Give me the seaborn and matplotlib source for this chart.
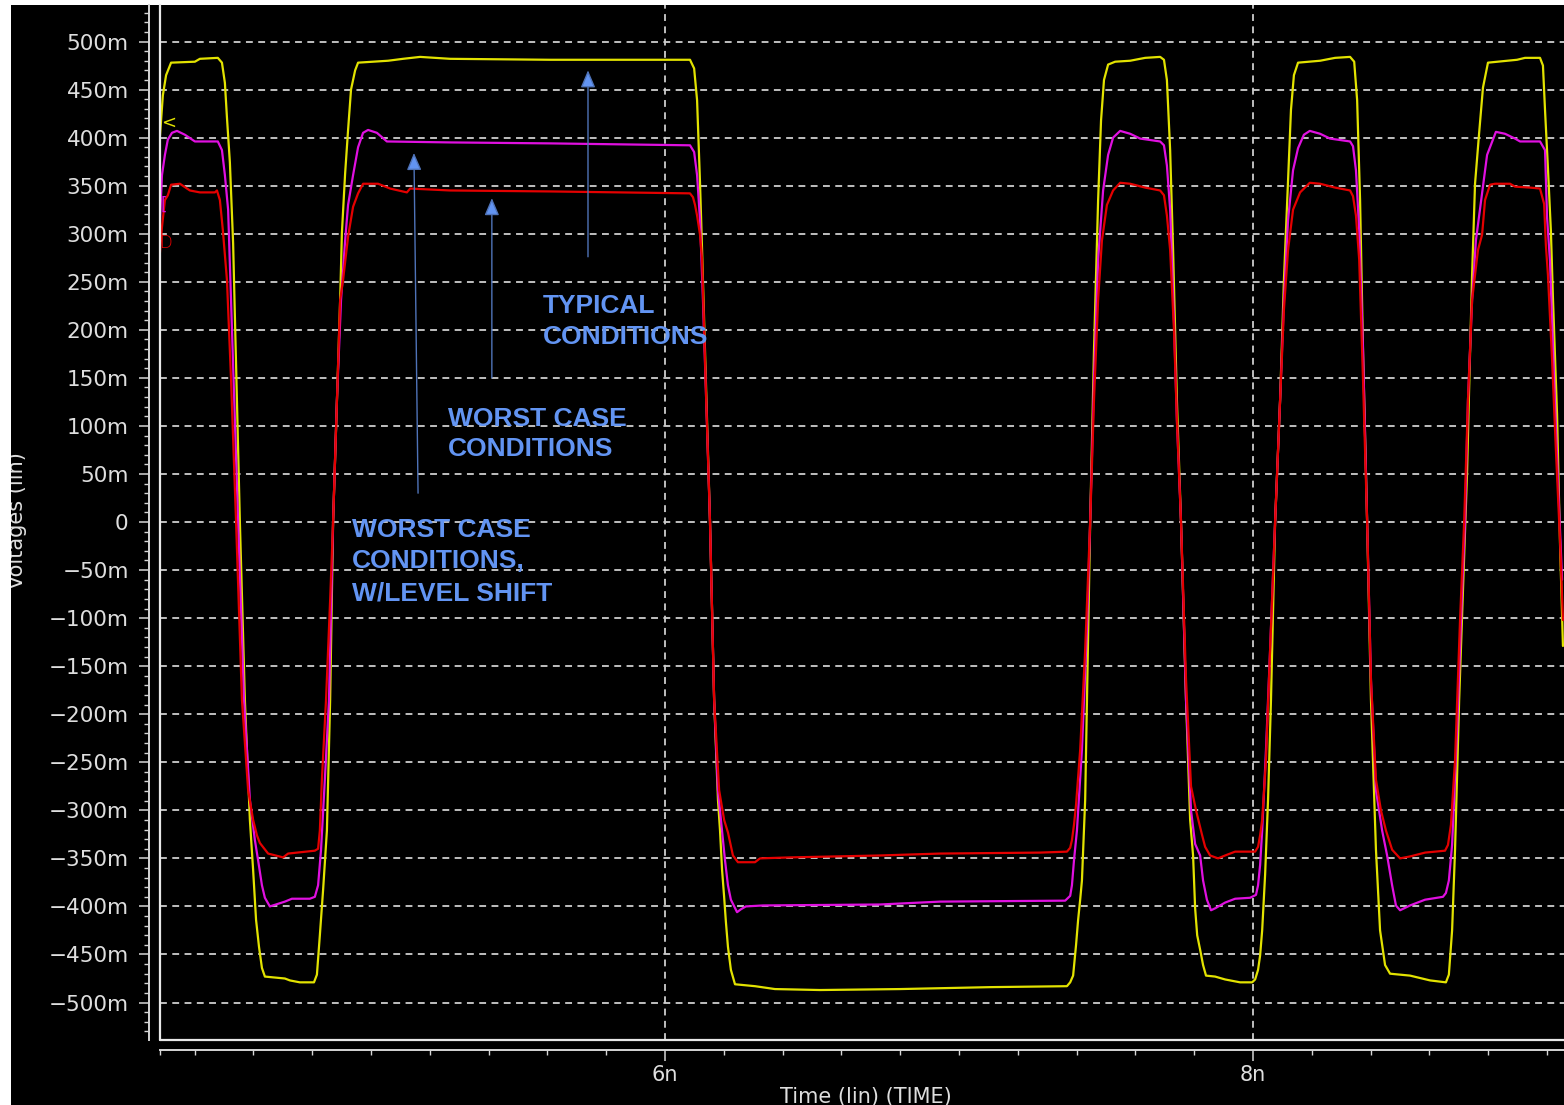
import numpy as np
import pandas as pd
import seaborn as sns
import matplotlib
matplotlib.use('Agg')
import matplotlib.pyplot as plt
from matplotlib.patches import Rectangle, FancyArrowPatch
from matplotlib.ticker import FixedLocator, FuncFormatter, MultipleLocator

# waveforms: (time in ns, voltage in mV)
typical = [(4.282, 401), (4.292, 444), (4.303, 465), (4.320, 478), (4.401, 479), (4.418, 482), (4.479, 483),
           (4.493, 478), (4.503, 457), (4.510, 421), (4.520, 374), (4.531, 290), (4.544, 127), (4.554, 0),
           (4.571, -185), (4.588, -310), (4.599, -362), (4.609, -414), (4.619, -442), (4.629, -464), (4.639, -473),
           (4.707, -475), (4.724, -477), (4.758, -479), (4.806, -479), (4.816, -471), (4.826, -430), (4.837, -383),
           (4.850, -321), (4.861, -185), (4.871, 0), (4.884, 127), (4.895, 231), (4.901, 301), (4.912, 363),
           (4.922, 408), (4.932, 450), (4.946, 470), (4.956, 478), (5.007, 479), (5.058, 480), (5.109, 482),
           (5.167, 484), (5.269, 482), (5.609, 481), (5.847, 481), (5.983, 481), (6.085, 481), (6.099, 472),
           (6.109, 439), (6.119, 353), (6.126, 283), (6.136, 179), (6.153, 0), (6.167, -185), (6.180, -289),
           (6.187, -321), (6.194, -362), (6.201, -390), (6.207, -416), (6.214, -442), (6.224, -466), (6.238, -481),
           (6.306, -483), (6.374, -486), (6.527, -487), (6.799, -486), (7.105, -484), (7.367, -483), (7.378, -479),
           (7.388, -472), (7.398, -440), (7.405, -414), (7.412, -393), (7.418, -373), (7.429, -289), (7.435, -185),
           (7.446, 0), (7.459, 179), (7.473, 335), (7.483, 418), (7.493, 460), (7.507, 476), (7.531, 479),
           (7.582, 480), (7.633, 483), (7.684, 484), (7.697, 481), (7.707, 460), (7.718, 387), (7.728, 283),
           (7.741, 127), (7.755, 0), (7.772, -185), (7.786, -310), (7.796, -347), (7.803, -402), (7.810, -430),
           (7.820, -445), (7.830, -461), (7.840, -472), (7.871, -473), (7.905, -476), (7.956, -479), (7.997, -479),
           (8.007, -476), (8.017, -466), (8.024, -451), (8.031, -425), (8.041, -367), (8.051, -289), (8.061, -185),
           (8.075, 0), (8.092, 127), (8.105, 252), (8.119, 356), (8.129, 429), (8.139, 465), (8.153, 478),
           (8.228, 480), (8.279, 483), (8.330, 484), (8.344, 479), (8.354, 439), (8.364, 335), (8.374, 179),
           (8.388, 0), (8.401, -185), (8.418, -341), (8.432, -425), (8.449, -461), (8.466, -470), (8.534, -472),
           (8.602, -477), (8.656, -479), (8.666, -471), (8.677, -425), (8.687, -341), (8.701, -185), (8.728, 52),
           (8.735, 140), (8.745, 257), (8.755, 352), (8.769, 405), (8.782, 452), (8.799, 478), (8.898, 481),
           (8.925, 483), (8.976, 483), (8.986, 475), (8.993, 429), (9.003, 368), (9.013, 303), (9.020, 233),
           (9.027, 173), (9.034, 112), (9.044, -22), (9.054, -129)]

worst_shift = [(4.282, 312), (4.289, 361), (4.299, 382), (4.309, 398), (4.323, 405), (4.340, 407), (4.367, 403),
               (4.401, 396), (4.479, 396), (4.493, 387), (4.503, 361), (4.514, 325), (4.524, 231), (4.537, 106),
               (4.548, 0), (4.568, -185), (4.588, -289), (4.605, -331), (4.616, -352), (4.629, -378), (4.639, -391),
               (4.656, -400), (4.707, -395), (4.731, -392), (4.792, -392), (4.809, -390), (4.820, -378),
               (4.830, -341), (4.843, -268), (4.857, -185), (4.871, 0), (4.884, 127), (4.898, 231), (4.912, 293),
               (4.922, 330), (4.939, 361), (4.956, 390), (4.973, 405), (4.990, 408), (5.020, 405), (5.054, 396),
               (5.269, 395), (5.609, 394), (6.085, 392), (6.099, 385), (6.109, 361), (6.119, 314), (6.129, 231),
               (6.140, 127), (6.153, 0), (6.167, -185), (6.180, -279), (6.194, -321), (6.204, -352), (6.214, -378),
               (6.224, -393), (6.245, -406), (6.258, -403), (6.275, -400), (6.333, -399), (6.731, -398),
               (6.935, -395), (7.361, -394), (7.378, -389), (7.384, -378), (7.391, -352), (7.401, -321),
               (7.418, -237), (7.435, -112), (7.446, 0), (7.459, 148), (7.473, 273), (7.490, 345), (7.507, 382),
               (7.524, 400), (7.548, 407), (7.582, 404), (7.616, 399), (7.684, 396), (7.697, 392), (7.707, 371),
               (7.718, 325), (7.731, 210), (7.741, 106), (7.755, 0), (7.772, -185), (7.789, -300), (7.803, -335),
               (7.820, -347), (7.830, -373), (7.843, -393), (7.857, -404), (7.871, -402), (7.905, -396),
               (7.939, -392), (7.990, -391), (8.010, -388), (8.017, -378), (8.024, -357), (8.031, -321),
               (8.044, -237), (8.058, -133), (8.075, 0), (8.092, 127), (8.105, 231), (8.119, 314), (8.136, 366),
               (8.153, 389), (8.173, 403), (8.193, 407), (8.228, 404), (8.262, 399), (8.330, 396), (8.340, 391),
               (8.350, 366), (8.361, 304), (8.374, 179), (8.388, 0), (8.401, -164), (8.418, -279), (8.439, -321),
               (8.456, -347), (8.473, -378), (8.486, -399), (8.500, -404), (8.534, -399), (8.585, -393),
               (8.646, -390), (8.656, -386), (8.666, -373), (8.677, -336), (8.694, -216), (8.711, -71), (8.721, 0),
               (8.731, 127), (8.745, 231), (8.758, 293), (8.772, 326), (8.796, 382), (8.816, 398), (8.826, 406),
               (8.857, 404), (8.891, 399), (8.908, 396), (8.976, 396), (8.993, 387), (9.000, 317), (9.010, 271),
               (9.024, 148), (9.037, 44), (9.051, -60)]

worst_case = [(4.282, 280), (4.289, 307), (4.299, 335), (4.309, 340), (4.320, 351), (4.350, 352), (4.384, 345),
              (4.418, 343), (4.469, 343), (4.476, 345), (4.486, 335), (4.496, 304), (4.510, 252), (4.524, 148),
              (4.541, 0), (4.561, -185), (4.582, -279), (4.599, -310), (4.612, -326), (4.622, -334), (4.650, -345),
              (4.701, -349), (4.718, -345), (4.809, -342), (4.820, -340), (4.826, -321), (4.833, -268),
              (4.847, -185), (4.861, -81), (4.871, 0), (4.884, 127), (4.895, 231), (4.905, 252), (4.922, 297),
              (4.939, 328), (4.956, 342), (4.973, 352), (5.024, 352), (5.065, 347), (5.122, 343), (5.133, 347),
              (5.269, 345), (5.609, 344), (6.085, 342), (6.095, 338), (6.102, 330), (6.109, 319), (6.119, 299),
              (6.126, 273), (6.140, 127), (6.153, 0), (6.167, -185), (6.184, -279), (6.201, -310), (6.214, -323),
              (6.231, -347), (6.248, -354), (6.306, -354), (6.323, -350), (6.425, -349), (6.731, -347),
              (6.935, -345), (7.275, -344), (7.367, -343), (7.378, -339), (7.384, -331), (7.391, -315),
              (7.398, -294), (7.412, -237), (7.429, -133), (7.446, 0), (7.459, 127), (7.473, 231), (7.486, 293),
              (7.503, 330), (7.524, 345), (7.548, 353), (7.582, 352), (7.633, 348), (7.684, 345), (7.697, 340),
              (7.707, 319), (7.718, 283), (7.731, 200), (7.741, 106), (7.755, 0), (7.772, -164), (7.789, -275),
              (7.806, -300), (7.826, -325), (7.837, -338), (7.854, -347), (7.881, -350), (7.905, -347),
              (7.939, -343), (8.007, -343), (8.017, -338), (8.024, -326), (8.031, -310), (8.044, -248),
              (8.058, -133), (8.075, 0), (8.092, 127), (8.105, 221), (8.119, 283), (8.136, 325), (8.160, 343),
              (8.193, 353), (8.228, 352), (8.279, 348), (8.330, 345), (8.340, 339), (8.350, 319), (8.361, 273),
              (8.374, 148), (8.388, 0), (8.401, -164), (8.418, -268), (8.435, -300), (8.452, -321), (8.473, -341),
              (8.500, -350), (8.534, -348), (8.585, -344), (8.653, -342), (8.663, -336), (8.673, -315),
              (8.687, -248), (8.704, -102), (8.718, 0), (8.731, 127), (8.745, 231), (8.765, 283), (8.779, 299),
              (8.789, 335), (8.806, 351), (8.823, 352), (8.874, 352), (8.891, 349), (8.942, 348), (8.976, 347),
              (8.990, 331), (8.996, 288), (9.003, 257), (9.017, 169), (9.030, 75), (9.044, -19), (9.054, -102)]

trace_names = ['typical', 'worst_shift', 'worst_case']
trace_colors = {'typical': '#e2e200', 'worst_shift': '#e010e0', 'worst_case': '#e40000'}

frames = []
for name, pts in zip(trace_names, [typical, worst_shift, worst_case]):
    d = pd.DataFrame(pts, columns=['t', 'mv'])
    d['v'] = d.mv / 1000.0
    d['trace'] = name
    frames.append(d)
df = pd.concat(frames, ignore_index=True)

sns.set_theme(style='dark', rc={'axes.facecolor': 'black', 'figure.facecolor': 'white'})
plt.rcParams['font.family'] = ['DejaVu Sans']

W, H = 1564, 1105
fig = plt.figure(figsize=(W / 100, H / 100), dpi=100)
fig.patches.append(Rectangle((11 / W, 0), 1, 1 - 5 / H, transform=fig.transFigure,
                             facecolor='black', edgecolor='none', zorder=-5))

ax = fig.add_axes([160 / W, 1 - 1040 / H, 1404 / W, 1035 / H])
ax.set_zorder(2)
ax.set_facecolor('black')
ax.set_axisbelow(True)

sns.lineplot(data=df, x='t', y='v', hue='trace', hue_order=trace_names, palette=trace_colors,
             sort=False, estimator=None, legend=False, linewidth=1.6, ax=ax)

ax.set_xlim(4.2823, 9.0576)
ax.set_ylim(-0.539, 0.538)
ax.set_xlabel('')
ax.set_ylabel('')

fg = '#d6d6d6'
for s in ['top', 'right']:
    ax.spines[s].set_visible(False)
ax.spines['left'].set_position(('outward', 8))
ax.spines['bottom'].set_position(('outward', 7))
for s in ['left', 'bottom']:
    ax.spines[s].set_color(fg)
    ax.spines[s].set_linewidth(1.4)
# plot frame (the double line next to the rulers)
ax.plot([0, 0], [0, 1], transform=ax.transAxes, color='#e8e8e8', lw=1.6, clip_on=False, zorder=5)
ax.plot([0, 1], [0, 0], transform=ax.transAxes, color='#e8e8e8', lw=1.6, clip_on=False, zorder=5)

ax.yaxis.set_major_locator(MultipleLocator(0.05))
ax.yaxis.set_minor_locator(MultipleLocator(0.01))


def mfmt(v, pos):
    mv = int(round(v * 1000))
    if mv == 0:
        return '0'
    return f'{mv}m'.replace('-', '\u2212')


ax.yaxis.set_major_formatter(FuncFormatter(mfmt))
ax.xaxis.set_major_locator(FixedLocator([6, 8]))
ax.xaxis.set_minor_locator(FixedLocator([4.2823] + [round(4.4 + 0.2 * i, 1) for i in range(24)]))
ax.xaxis.set_major_formatter(FuncFormatter(lambda v, p: f'{v:.0f}n'))

ax.tick_params(axis='y', which='major', length=7.5, width=1.1, color=fg, pad=7,
               labelsize=15.5, labelcolor='#dedede', left=True)
ax.tick_params(axis='y', which='minor', length=3.6, width=1.0, color=fg, left=True)
ax.tick_params(axis='x', which='major', length=8, width=1.1, color=fg, pad=3,
               labelsize=15, labelcolor='#dedede', bottom=True)
ax.tick_params(axis='x', which='minor', length=3.6, width=1.0, color=fg, bottom=True)

ax.grid(True, which='major', axis='both', color='#cdcdcd', lw=1.3, linestyle=(0, (3.8, 3.0)))
ax.grid(False, which='minor')

fig.text(17.5 / W, 1 - 521 / H, 'Voltages (lin)', rotation=90, ha='center', va='center',
         fontsize=15, color='#dedede')
fig.text(866 / W, 1 - 1102.5 / H, 'Time (lin) (TIME)', ha='center', va='baseline',
         fontsize=15, color='#dedede')
# white border strip that cuts the axis title
fig.patches.append(Rectangle((0, 0), 11 / W, 1, transform=fig.transFigure,
                             facecolor='white', edgecolor='none', zorder=10))

# trace markers at the left edge
ax.text(4.286, 0.415, '<', color=trace_colors['typical'], fontsize=13, ha='left', va='center')
ax.text(4.284, 0.330, '[', color=trace_colors['worst_shift'], fontsize=12, ha='left', va='center')
ax.text(4.281, 0.290, 'D', color=trace_colors['worst_case'], fontsize=12, ha='left', va='center',
        fontweight='light')

# annotations
blue = '#6294f2'
afont = dict(family=['Liberation Sans', 'DejaVu Sans'], fontweight='bold', fontsize=19, color=blue)
notes = [
    (5.585, [0.2175, 0.185], ['TYPICAL', 'CONDITIONS']),
    (5.262, [0.0999, 0.0687], ['WORST CASE', 'CONDITIONS']),
    (4.935, [-0.0156, -0.0479, -0.0812], ['WORST CASE', 'CONDITIONS,', 'W/LEVEL SHIFT']),
]
for tx, ys, lines in notes:
    for yy, line in zip(ys, lines):
        ax.text(tx, yy, line, ha='left', va='baseline', zorder=6, **afont)

arrows = [((5.738, 0.276), (5.738, 0.470)),
          ((5.411, 0.150), (5.411, 0.337)),
          ((5.160, 0.030), (5.146, 0.384))]
for tail, tip in arrows:
    ax.add_patch(FancyArrowPatch(tail, tip, arrowstyle='-|>,head_length=1.05,head_width=0.45',
                                 mutation_scale=10, lw=1.0, edgecolor='#4f73b8', facecolor=blue,
                                 shrinkA=0, shrinkB=0, zorder=6))

fig.savefig('out.png', dpi=100)
